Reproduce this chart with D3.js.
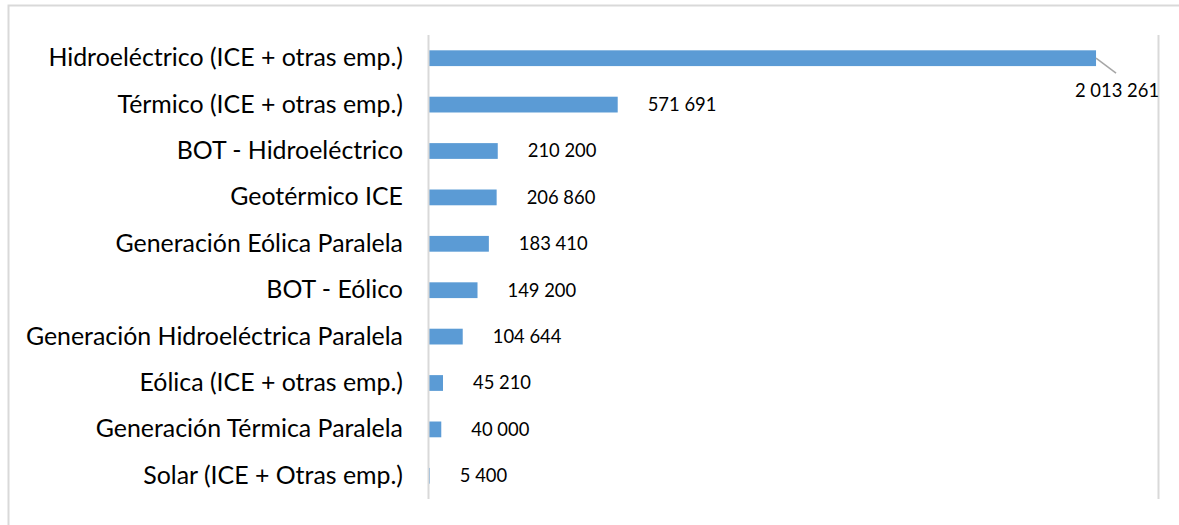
<!DOCTYPE html>
<html>
<head>
<meta charset="utf-8">
<script src="https://cdn.jsdelivr.net/npm/d3@7"></script>
<style>
  html, body { margin: 0; padding: 0; background: #fff; }
  svg { display: block; }
  text { font-family: Lato, "Open Sans", sans-serif; fill: #000; }
</style>
</head>
<body>
<svg id="chart" width="1179" height="525"></svg>
<script>
// Capacidad instalada por fuente
const categories = [
  "Hidroeléctrico (ICE + otras emp.)",
  "Térmico (ICE + otras emp.)",
  "BOT - Hidroeléctrico",
  "Geotérmico ICE",
  "Generación Eólica Paralela",
  "BOT - Eólico",
  "Generación Hidroeléctrica Paralela",
  "Eólica (ICE + otras emp.)",
  "Generación Térmica Paralela",
  "Solar (ICE + Otras emp.)"
];
const values = [2013261, 571691, 210200, 206860, 183410, 149200, 104644, 45210, 40000, 5400];
const axisMax = 2200000;

const svg = d3.select("#chart");
const W = 1179, H = 525;

// chart frame
svg.append("rect")
  .attr("x", 8.5).attr("y", 5.5)
  .attr("width", W + 10).attr("height", H + 10)
  .attr("fill", "none").attr("stroke", "#d9d9d9").attr("stroke-width", 2);

const plotLeft = 428, plotRight = 1158, plotTop = 35, plotBottom = 499;

const x = d3.scaleLinear().domain([0, axisMax]).range([plotLeft, plotRight]);
const y = d3.scaleBand().domain(categories).range([plotTop, plotBottom]).paddingInner(0.66).paddingOuter(0.33);

const fmt = v => d3.format(",")(v).replace(/,/g, " ");

// gridline at the axis maximum
svg.append("line")
  .attr("x1", x(axisMax) + 0.5).attr("x2", x(axisMax) + 0.5)
  .attr("y1", plotTop).attr("y2", plotBottom)
  .attr("stroke", "#d9d9d9").attr("stroke-width", 2);

// bars
svg.append("g").selectAll("rect")
  .data(values)
  .join("rect")
  .attr("x", x(0))
  .attr("y", (d, i) => y(categories[i]))
  .attr("width", d => x(d) - x(0))
  .attr("height", y.bandwidth())
  .attr("fill", "#5b9bd5");

// category axis
const yAxis = svg.append("g")
  .attr("transform", `translate(${plotLeft},0)`)
  .call(d3.axisLeft(y).tickSize(0).tickPadding(25));
yAxis.select(".domain").attr("stroke", "#d9d9d9").attr("stroke-width", 2)
  .attr("d", `M0.5,${plotTop}V${plotBottom}`);
yAxis.selectAll("text")
  .style("font-family", "Lato, sans-serif")
  .style("font-size", "24.9px")
  .attr("fill", "#000");

// value labels
const labels = svg.append("g");
values.forEach((v, i) => {
  const cy = y(categories[i]) + y.bandwidth() / 2;
  if (i === 0) {
    const bx = x(v);
    labels.append("line")
      .attr("x1", bx).attr("y1", cy)
      .attr("x2", bx + 20).attr("y2", cy + 15)
      .attr("stroke", "#a6a6a6").attr("stroke-width", 1.5);
    labels.append("text")
      .attr("x", bx + 21).attr("y", cy + 32.5)
      .attr("text-anchor", "middle")
      .attr("dy", "0.35em")
      .style("font-size", "18.4px")
      .text(fmt(v));
  } else {
    labels.append("text")
      .attr("x", x(v) + 30).attr("y", cy)
      .attr("dy", "0.35em")
      .style("font-size", "18.4px")
      .text(fmt(v));
  }
});
</script>
</body>
</html>
